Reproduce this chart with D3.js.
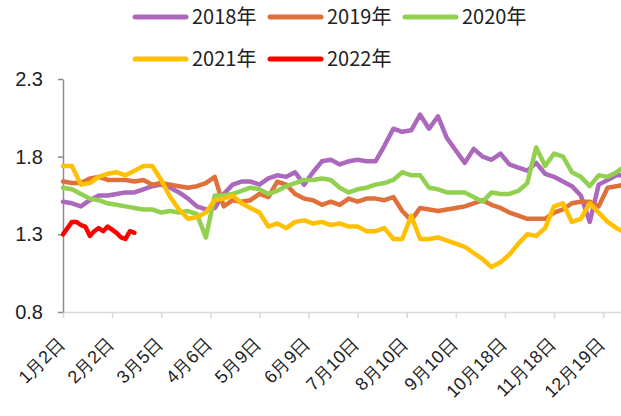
<!DOCTYPE html>
<html>
<head>
<meta charset="utf-8">
<script src="https://cdn.jsdelivr.net/npm/d3@7"></script>
<style>
  body { margin: 0; background: #fff; }
  svg { display: block; font-family: "Noto Sans CJK SC", "Noto Sans", sans-serif; }
  .axis text { fill: #222; }
</style>
</head>
<body>
<svg id="chart"></svg>
<script>
// series names (legend)
const years = ["2018年", "2019年", "2020年", "2021年", "2022年"];

// values sampled every 4 trading days (2022: every 2 trading days)
const s2018 = [1.51, 1.50, 1.48, 1.52, 1.55, 1.55, 1.56, 1.57, 1.57, 1.59, 1.61, 1.62, 1.60, 1.57, 1.53, 1.48,
  1.46, 1.47, 1.56, 1.62, 1.64, 1.64, 1.62, 1.66, 1.68, 1.67, 1.70, 1.62, 1.70, 1.77, 1.78, 1.75,
  1.77, 1.78, 1.77, 1.77, 1.87, 1.98, 1.96, 1.97, 2.07, 1.98, 2.06, 1.92, 1.84, 1.76, 1.85, 1.80,
  1.78, 1.82, 1.75, 1.73, 1.71, 1.76, 1.69, 1.67, 1.64, 1.61, 1.55, 1.38, 1.62, 1.65, 1.68, 1.68];
const s2019 = [1.64, 1.63, 1.63, 1.66, 1.67, 1.65, 1.65, 1.65, 1.64, 1.65, 1.62, 1.63, 1.62, 1.61, 1.60, 1.61,
  1.63, 1.67, 1.48, 1.52, 1.51, 1.52, 1.56, 1.54, 1.64, 1.62, 1.56, 1.53, 1.52, 1.49, 1.51, 1.49,
  1.53, 1.51, 1.53, 1.53, 1.52, 1.54, 1.45, 1.39, 1.47, 1.46, 1.45, 1.46, 1.47, 1.48, 1.50, 1.52,
  1.49, 1.47, 1.44, 1.42, 1.40, 1.40, 1.40, 1.44, 1.46, 1.50, 1.51, 1.51, 1.48, 1.60, 1.61, 1.62];
const s2020 = [1.60, 1.59, 1.56, 1.53, 1.52, 1.50, 1.49, 1.48, 1.47, 1.46, 1.46, 1.44, 1.45, 1.44, 1.45, 1.43,
  1.28, 1.55, 1.55, 1.56, 1.58, 1.60, 1.59, 1.56, 1.58, 1.61, 1.63, 1.65, 1.65, 1.66, 1.65, 1.60,
  1.57, 1.59, 1.60, 1.62, 1.63, 1.65, 1.70, 1.68, 1.68, 1.60, 1.59, 1.57, 1.57, 1.57, 1.54, 1.51,
  1.57, 1.56, 1.56, 1.58, 1.63, 1.86, 1.74, 1.82, 1.80, 1.70, 1.67, 1.61, 1.68, 1.67, 1.70, 1.74];
const s2021 = [1.74, 1.74, 1.62, 1.63, 1.67, 1.69, 1.70, 1.68, 1.71, 1.74, 1.74, 1.65, 1.54, 1.46, 1.40, 1.41,
  1.44, 1.52, 1.53, 1.55, 1.50, 1.47, 1.44, 1.35, 1.37, 1.34, 1.38, 1.39, 1.37, 1.38, 1.36, 1.37,
  1.35, 1.35, 1.32, 1.32, 1.34, 1.27, 1.27, 1.42, 1.27, 1.27, 1.28, 1.26, 1.24, 1.22, 1.18, 1.14,
  1.09, 1.12, 1.17, 1.24, 1.30, 1.29, 1.34, 1.48, 1.50, 1.38, 1.40, 1.50, 1.44, 1.38, 1.34, 1.31];
const s2022 = [1.30, 1.34, 1.38, 1.38, 1.36, 1.35, 1.29, 1.32, 1.34, 1.32, 1.35, 1.33, 1.31, 1.28, 1.27, 1.32, 1.31];

const sampleSteps = [4, 4, 4, 4, 2];

// category axis: one label every 22 trading days
const tickLabels = ["1月2日", "2月2日", "3月5日", "4月6日", "5月9日", "6月9日",
  "7月10日", "8月10日", "9月10日", "10月18日", "11月18日", "12月19日"];
const tickEvery = 22;
const lastDay = 250;
const yTicks = [0.8, 1.3, 1.8, 2.3];

const colors = ["#ab68bd", "#e0703a", "#92d050", "#ffc000", "#ff0000"];

const width = 621, height = 416;
const margin = { top: 79, right: 0, bottom: 104, left: 63 };

const svg = d3.select("#chart").attr("width", width).attr("height", height);

const x = d3.scaleLinear().domain([0, lastDay]).range([margin.left, width - margin.right]);
const y = d3.scaleLinear().domain([0.8, 2.3]).range([height - margin.bottom, margin.top]);

// x axis
const xAxis = d3.axisBottom(x)
  .tickValues(tickLabels.map((d, i) => i * tickEvery))
  .tickFormat((d, i) => tickLabels[i])
  .tickSize(6)
  .tickSizeOuter(0);

const xAxisG = svg.append("g")
  .attr("class", "axis x-axis")
  .attr("transform", `translate(0,${height - margin.bottom})`)
  .call(xAxis);

xAxisG.select(".domain").attr("stroke", "#d9d9d9").attr("stroke-width", 1.5);
xAxisG.selectAll(".tick line").attr("stroke", "#d9d9d9").attr("stroke-width", 1.5);
xAxisG.selectAll(".tick text")
  .attr("font-size", 18)
  .attr("text-anchor", "end")
  .attr("dy", 0)
  .attr("y", 0)
  .attr("transform", "translate(2,33) rotate(-45)");

// y axis
const yAxis = d3.axisLeft(y)
  .tickValues(yTicks)
  .tickFormat(d3.format(".1f"))
  .tickSize(5)
  .tickPadding(15)
  .tickSizeOuter(0);

const yAxisG = svg.append("g")
  .attr("class", "axis y-axis")
  .attr("transform", `translate(${margin.left},0)`)
  .call(yAxis);

yAxisG.select(".domain").attr("stroke", "#8c8c8c").attr("stroke-width", 1.5);
yAxisG.selectAll(".tick line").attr("stroke", "#8c8c8c").attr("stroke-width", 1.5);
yAxisG.selectAll(".tick text").attr("font-size", 20);

// lines
const series = [s2018, s2019, s2020, s2021, s2022];

series.forEach((vals, si) => {
  const line = d3.line()
    .x((d, i) => x(i * sampleSteps[si]))
    .y((d) => y(d));
  svg.append("path")
    .datum(vals)
    .attr("class", "series")
    .attr("fill", "none")
    .attr("stroke", colors[si])
    .attr("stroke-width", 4.5)
    .attr("stroke-linejoin", "round")
    .attr("stroke-linecap", "round")
    .attr("d", line);
});

// legend, two rows
const legendPos = [
  { x: 133, y: 17 }, { x: 268, y: 17 }, { x: 403, y: 17 },
  { x: 133, y: 59 }, { x: 268, y: 59 }
];

const legend = svg.append("g").attr("class", "legend");
years.forEach((name, i) => {
  const g = legend.append("g").attr("transform", `translate(${legendPos[i].x},${legendPos[i].y})`);
  g.append("line")
    .attr("x1", 2).attr("x2", 53)
    .attr("y1", 0).attr("y2", 0)
    .attr("stroke", colors[i])
    .attr("stroke-width", 5)
    .attr("stroke-linecap", "round");
  g.append("text")
    .attr("x", 59)
    .attr("y", 0)
    .attr("dy", "0.36em")
    .attr("font-size", 20)
    .attr("fill", "#222")
    .text(name);
});
</script>
</body>
</html>
